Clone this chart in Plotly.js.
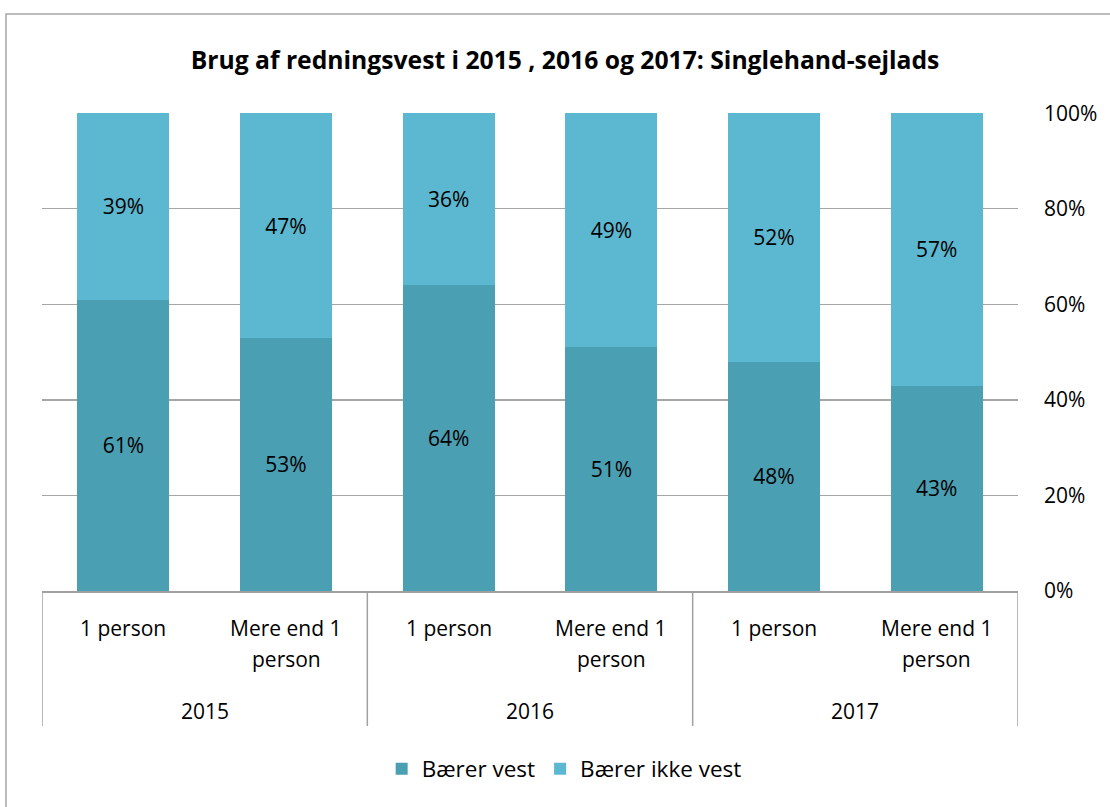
<!DOCTYPE html>
<html>
<head>
<meta charset="utf-8">
<script src="https://cdn.plot.ly/plotly-3.0.1.min.js"></script>
<style>html,body{margin:0;padding:0;background:#fff;}#chart{width:1110px;height:807px;}</style>
</head>
<body>
<div id="chart"></div>
<script>
const groups = ["2015", "2016", "2017"];
const subCategories = ["1 person", "Mere end 1<br>person", "1 person", "Mere end 1<br>person", "1 person", "Mere end 1<br>person"];
const baererVest = [0.61, 0.53, 0.64, 0.51, 0.48, 0.43];
const baererIkkeVest = [0.39, 0.47, 0.36, 0.49, 0.52, 0.57];
const seriesNames = ["Bærer vest", "Bærer ikke vest"];
const yTicks = [0, 0.2, 0.4, 0.6, 0.8, 1.0];

const FONT = "'Open Sans', 'Noto Sans', sans-serif";
const FS = 21;
const xPos = subCategories.map((_, i) => i);
const pct = v => Math.round(v * 100) + "%";

const common = {
  type: "bar", x: xPos, width: 0.566,
  textposition: "inside", insidetextanchor: "middle",
  textfont: {family: FONT, size: FS, color: "#000"},
  hoverinfo: "skip", constraintext: "none"
};
const traces = [
  Object.assign({}, common, {name: seriesNames[0], y: baererVest, text: baererVest.map(pct), marker: {color: "#4A9FB3"}}),
  Object.assign({}, common, {name: seriesNames[1], y: baererIkkeVest, text: baererIkkeVest.map(pct), marker: {color: "#5BB8D0"}})
];

const px = x => (x - 42) / 976;
const py = y => (591 - y) / 478;

const annotations = [];
subCategories.forEach((c, i) => {
  const lines = c.split("<br>");
  lines.forEach((ln, li) => {
    annotations.push({text: ln, x: i, xref: "x", y: py(628 + li * 31), yref: "paper",
      showarrow: false, xanchor: "center", yanchor: "middle",
      font: {family: FONT, size: FS, color: "#000"}});
  });
});
groups.forEach((g, gi) => {
  annotations.push({text: g, x: gi * 2 + 0.5, xref: "x", y: py(711), yref: "paper",
    showarrow: false, xanchor: "center", yanchor: "middle",
    font: {family: FONT, size: FS, color: "#000"}});
});

const shapes = [];
[-0.5, 1.5, 3.5, 5.5].forEach(x => {
  shapes.push({type: "line", xref: "x", yref: "paper", x0: x, x1: x, y0: 0, y1: py(726),
    line: {color: "#A0A0A0", width: 1.5}});
});
shapes.push({type: "rect", xref: "paper", yref: "paper", x0: px(6), x1: px(1125), y0: py(825), y1: py(14),
  line: {color: "#A6A6A6", width: 1.5}, fillcolor: "rgba(0,0,0,0)"});

const layout = {
  width: 1110, height: 807,
  margin: {l: 42, r: 92, t: 113, b: 216},
  paper_bgcolor: "#fff", plot_bgcolor: "#fff",
  barmode: "stack",
  title: {text: "<b>Brug af redningsvest i 2015 , 2016 og 2017: Singlehand-sejlads</b>",
    x: 0.509, xanchor: "center", y: 1 - 60 / 807, yanchor: "middle",
    font: {family: FONT, size: 24.7, color: "#000"}},
  xaxis: {range: [-0.5, 5.5], showticklabels: false, ticks: "", showgrid: false, zeroline: false,
    showline: true, linecolor: "#A0A0A0", linewidth: 1.5, fixedrange: true},
  yaxis: {side: "right", range: [0, 1.0005], tickvals: yTicks, tickformat: ".0%",
    showgrid: true, gridcolor: "#A6A6A6", gridwidth: 1.3, zeroline: false, showline: false,
    ticks: "", ticklabelstandoff: 25,
    tickfont: {family: FONT, size: FS, color: "#000"}, fixedrange: true},
  legend: {orientation: "h", x: 0.535, xanchor: "center", y: py(769), yanchor: "middle",
    font: {family: FONT, size: 22.5, color: "#000"}, traceorder: "normal", itemwidth: 20},
  showlegend: true,
  annotations: annotations,
  shapes: shapes
};

Plotly.newPlot("chart", traces, layout, {displayModeBar: false, staticPlot: true});
</script>
</body>
</html>
